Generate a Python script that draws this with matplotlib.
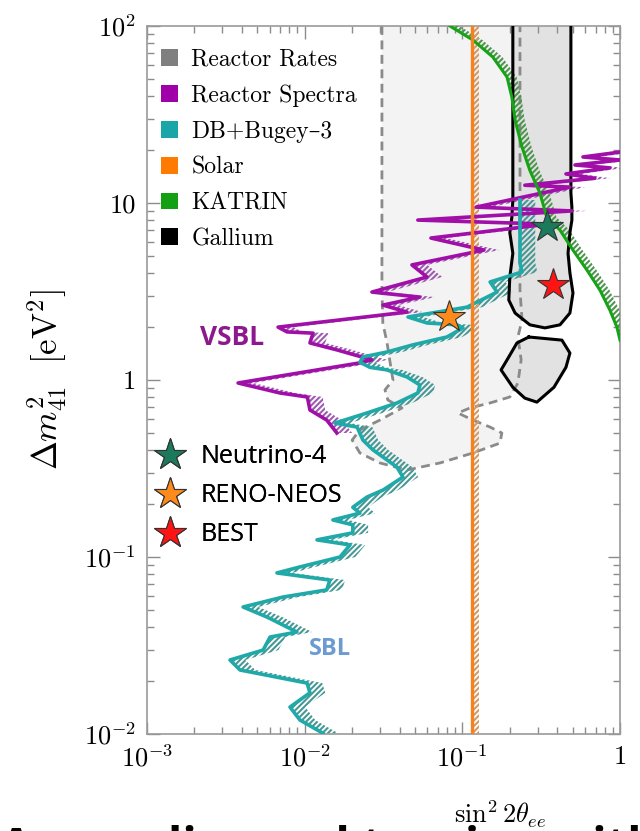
import matplotlib
matplotlib.use("Agg")
import matplotlib.pyplot as plt
from matplotlib.patches import Patch
from matplotlib.lines import Line2D

plt.rcParams['mathtext.fontset'] = 'cm'
plt.rcParams['font.family'] = ['cmr10', 'DejaVu Serif']
plt.rcParams['axes.formatter.use_mathtext'] = True
plt.rcParams['hatch.linewidth'] = 1.5

# ---------------------
# DATA
# ---------------------

# Reactor Rates allowed region (dashed outline)
rates_x = [0.0309, 0.0309, 0.0313, 0.0333, 0.0352, 0.0363, 0.0323, 0.0337,
           0.0414, 0.0300, 0.0224, 0.0200, 0.0224, 0.0300, 0.0446, 0.0721,
           0.1167, 0.173, 0.178, 0.150, 0.1167, 0.0938, 0.1117, 0.150,
           0.200, 0.225, 0.236, 0.225, 0.239, 0.232, 0.232]
rates_y = [100, 3.23, 2.10, 1.62, 1.18, 1.0, 0.879, 0.771,
           0.695, 0.594, 0.522, 0.458, 0.387, 0.340, 0.310, 0.340,
           0.387, 0.440, 0.502, 0.542, 0.594, 0.651, 0.695, 0.742,
           0.802, 0.962, 1.30, 1.75, 2.18, 3.23, 100]

# Gallium allowed regions
gallium_up_x = [0.209, 0.209, 0.206, 0.200, 0.209, 0.200, 0.197, 0.216, 0.268, 0.334,
                0.416, 0.481, 0.503, 0.481, 0.468, 0.481, 0.495, 0.495, 0.488, 0.488]
gallium_up_y = [110, 10.4, 8.3, 6.8, 5.2, 3.82, 2.83, 2.39, 2.05, 1.97,
                2.05, 2.39, 3.10, 4.03, 5.2, 6.8, 8.0, 9.5, 11.4, 110]
gallium_lo_x = [0.264, 0.428, 0.481, 0.454, 0.381, 0.297, 0.249, 0.209, 0.176, 0.197, 0.222]
gallium_lo_y = [1.75, 1.68, 1.42, 1.18, 0.91, 0.75, 0.79, 0.91, 1.14, 1.35, 1.62]

# KATRIN exclusion
katrin_x = [0.0834, 0.1167, 0.156, 0.192, 0.206, 0.216, 0.239, 0.268, 0.310,
            0.343, 0.416, 0.503, 0.617, 0.746, 0.863, 0.955, 1.0]
katrin_y = [100, 83.3, 66.8, 51.5, 39.7, 29.4, 20.7, 15.3, 11.4,
            8.34, 7.03, 5.42, 4.18, 3.22, 2.48, 1.99, 1.68]

# Reactor Spectra (VSBL) exclusion
spectra_x = [1.0, 0.582, 1.0, 0.518, 0.863, 0.454, 0.693, 0.249, 0.481, 0.122,
             0.495, 0.0522, 0.349, 0.0632, 0.137, 0.0479, 0.0597, 0.0267, 0.0538, 0.0314,
             0.0446, 0.00678, 0.00773, 0.0113, 0.0108, 0.0160, 0.0267, 0.0224, 0.00378, 0.00697,
             0.0104, 0.0108, 0.0138, 0.0160]
spectra_y = [19.4, 18.2, 17.5, 16.4, 15.8, 14.6, 13.8, 12.6, 12.3, 9.48,
             9.02, 8.01, 7.60, 6.34, 5.42, 4.47, 3.82, 3.14, 2.94, 2.65,
             2.42, 1.99, 1.87, 1.84, 1.62, 1.48, 1.30, 1.25, 0.962, 0.845,
             0.802, 0.677, 0.594, 0.502]

# DB+Bugey-3 (SBL) exclusion
bugey_x = [0.232, 0.232, 0.239, 0.150, 0.166, 0.107, 0.0452, 0.0597, 0.0925, 0.101,
           0.0798, 0.0486, 0.0333, 0.0234, 0.0224, 0.0259, 0.0333, 0.0446, 0.0538, 0.0522,
           0.0385, 0.0248, 0.01556, 0.0215, 0.0234, 0.0271, 0.0314, 0.0385, 0.0420, 0.0314,
           0.0248, 0.0202, 0.0224, 0.0151, 0.0202, 0.0202, 0.01197, 0.0194, 0.01675, 0.00933,
           0.00667, 0.01445, 0.0138, 0.00728, 0.00407, 0.00577, 0.00893, 0.00603, 0.00545, 0.00336,
           0.00389, 0.01035, 0.0108, 0.00807, 0.00933, 0.01306]
bugey_y = [10.4, 4.58, 4.08, 3.58, 3.14, 2.58, 2.27, 2.10, 2.05, 1.97,
           1.75, 1.58, 1.44, 1.35, 1.26, 1.18, 1.14, 1.04, 0.937, 0.845,
           0.742, 0.651, 0.571, 0.542, 0.458, 0.403, 0.367, 0.322, 0.283, 0.239,
           0.218, 0.191, 0.177, 0.162, 0.152, 0.137, 0.125, 0.117, 0.100, 0.0879,
           0.0813, 0.0741, 0.0652, 0.0594, 0.0522, 0.0458, 0.0377, 0.0353, 0.0298, 0.0262,
           0.0230, 0.0194, 0.0171, 0.0142, 0.0120, 0.0101]

# Solar bound
solar_x = 0.1155
solar_band = 0.127

# best fit points
star_names = ["Neutrino-4", "RENO-NEOS", "BEST"]
star_x = [0.343, 0.0822, 0.376]
star_y = [7.3, 2.27, 3.44]
star_colors = ["#1b7a5c", "#ff8a1c", "#ff1414"]

legend_labels = ["Reactor Rates", "Reactor Spectra", "DB+Bugey\u20133", "Solar", "KATRIN", "Gallium"]
legend_colors = ["#7f7f7f", "#a000a8", "#1aa5a8", "#ff7a00", "#12a012", "#000000"]


def hatch_band(ax, x, y, f, color):
    xs = list(x) + [v * f for v in x[::-1]]
    ys = list(y) + list(y[::-1])
    ax.fill(xs, ys, facecolor='none', edgecolor=color, hatch='//////',
            linewidth=0, zorder=3)


fig = plt.figure(figsize=(6.4, 8.31), dpi=100)
ax = fig.add_axes([0.2297, 0.1167, 0.7391, 0.852])
ax.set_xscale('log')
ax.set_yscale('log')

# Reactor rates
ax.fill(rates_x, rates_y, facecolor='#f3f3f3', edgecolor='none', zorder=1)

# Gallium fill
ax.fill(gallium_up_x, gallium_up_y, facecolor='#e2e2e2', edgecolor='none', zorder=1.5)
ax.fill(gallium_lo_x, gallium_lo_y, facecolor='#e2e2e2', edgecolor='none', zorder=1.5)

ax.plot(rates_x, rates_y, color='#8a8a8a', lw=2, ls=(0, (3.2, 2.0)), zorder=2)

# hatched sides
hatch_band(ax, spectra_x, spectra_y, 1.25, '#9e5cb0')
hatch_band(ax, bugey_x, bugey_y, 1.25, '#479894')
hatch_band(ax, katrin_x, katrin_y, 1.15, '#4f954f')
ax.fill_betweenx([0.01, 100], solar_x, solar_band, facecolor='none',
                 edgecolor='#d29a66', hatch='//////', linewidth=0, zorder=3)

# lines
ax.plot(gallium_up_x, gallium_up_y, color='black', lw=2.2, zorder=4)
ax.plot(gallium_lo_x + gallium_lo_x[:1], gallium_lo_y + gallium_lo_y[:1],
        color='black', lw=2.2, zorder=4)
ax.plot(spectra_x, spectra_y, color='#a010a8', lw=2.6, zorder=5)
ax.plot(bugey_x, bugey_y, color='#1fa9a8', lw=2.6, zorder=5)
ax.plot(katrin_x, katrin_y, color='#16a316', lw=2.2, zorder=5)
ax.axvline(solar_x, color='#f5821f', lw=2.4, zorder=5)

# stars
for sx, sy, c in zip(star_x, star_y, star_colors):
    ax.plot(sx, sy, marker='*', ms=24, mfc=c, mec='#333333', mew=0.8,
            ls='none', zorder=6)

ax.text(0.00346, 1.73, "VSBL", color='#8c1a8c', fontsize=19, fontweight='bold',
        family='Open Sans', ha='center', va='center', zorder=6)
ax.text(0.01445, 0.0302, "SBL", color='#6c9bd2', fontsize=17, fontweight='bold',
        family='Open Sans', ha='center', va='center', zorder=6)

ax.set_xlim(1e-3, 1)
ax.set_ylim(1e-2, 1e2)
ax.set_xticks([1e-3, 1e-2, 1e-1, 1],
              labels=[r'$10^{-3}$', r'$10^{-2}$', r'$10^{-1}$', '1'])
ax.set_yticks([1e-2, 1e-1, 1, 10, 100],
              labels=[r'$10^{-2}$', r'$10^{-1}$', '1', '10', r'$10^{2}$'])
ax.tick_params(which='both', direction='in', top=True, right=True,
               color='#8c8c8c', labelsize=19, pad=8)
ax.tick_params(which='major', length=9, width=1)
ax.tick_params(which='minor', length=5, width=1)
for sp in ax.spines.values():
    sp.set_color('#9a9a9a')
    sp.set_linewidth(1.2)

ax.set_ylabel(r'$\Delta m^2_{41}\ \ [\mathrm{eV}^2]$', fontsize=25)
ax.yaxis.set_label_coords(-0.165, 0.5)
fig.text(500 / 640, 1 - 814 / 831, r'$\sin^2 2\theta_{ee}$', ha='center',
         va='center', fontsize=19)

# legends
handles = [Patch(facecolor=c, edgecolor='none') for c in legend_colors]
leg1 = ax.legend(handles, legend_labels, loc='upper left', bbox_to_anchor=(0.02, 0.975),
                 frameon=False, prop={'family': ['cmr10', 'DejaVu Serif'], 'size': 17},
                 handlelength=0.72, handleheight=0.72, handletextpad=0.55,
                 labelspacing=0.58, borderaxespad=0, borderpad=0.2)
ax.add_artist(leg1)

star_handles = [Line2D([], [], ls='none', marker='*', ms=24, mfc=c, mec='#333333', mew=0.8)
                for c in star_colors]
leg2 = ax.legend(star_handles, star_names, loc='upper left', bbox_to_anchor=(0.007, 0.416),
                 frameon=False, prop={'family': 'Open Sans', 'size': 18},
                 handlelength=1.2, handletextpad=0.6, labelspacing=0.56,
                 borderaxespad=0, borderpad=0.2)
ax.add_artist(leg2)

fig.text(0.0, -0.036, "Anomalies and tension with the", fontsize=34,
         fontweight='bold', family='Open Sans', va='baseline', ha='left')

fig.savefig("out.png", dpi=100)
